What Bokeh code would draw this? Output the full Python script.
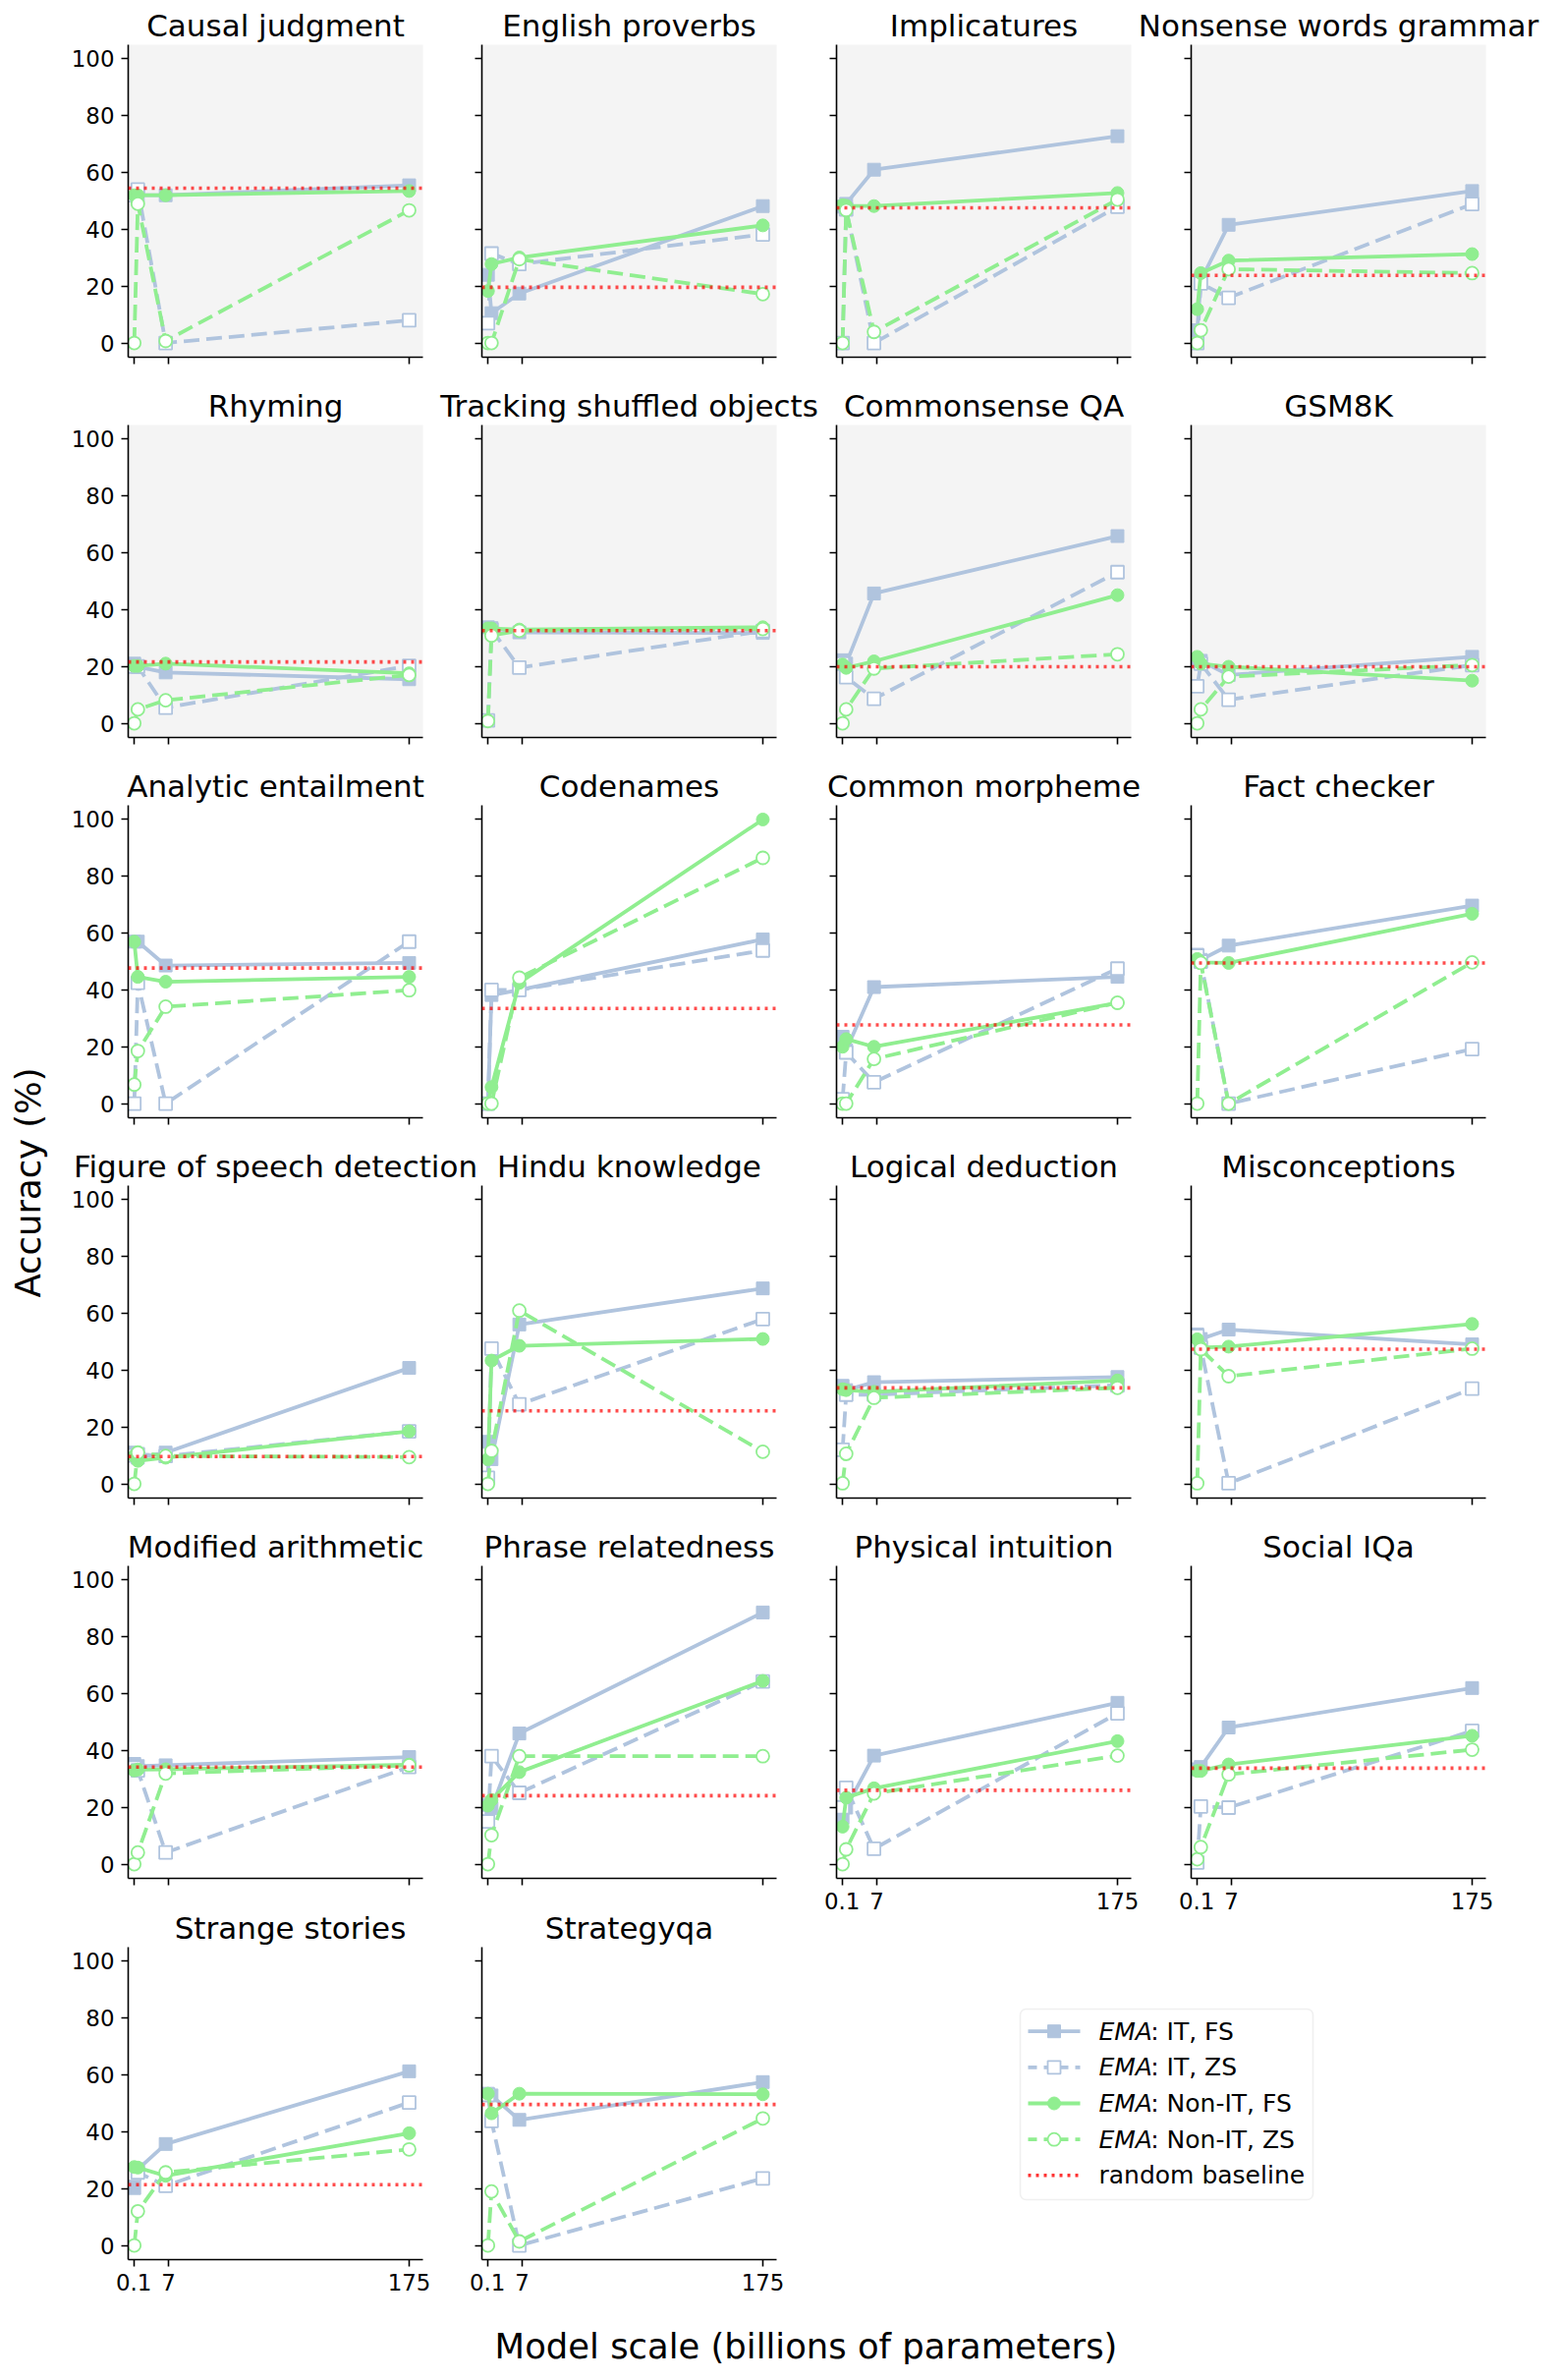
import math
from bokeh.plotting import figure
from bokeh.layouts import row, column
from bokeh.models import Range1d, FixedTicker, BoxAnnotation, Span
from bokeh.embed import file_html
from bokeh.resources import INLINE
from bokeh.core.properties import value

# ---------------- data ----------------
# plotting positions of the four model sizes on the (compressed) x axis
model_pos = [2, 15, 116, 1000]
tick_pos = [0, 126, 1000]
tick_labels = ["0.1", "7", "175"]

tasks = [
    "Causal judgment", "English proverbs", "Implicatures", "Nonsense words grammar",
    "Rhyming", "Tracking shuffled objects", "Commonsense QA", "GSM8K",
    "Analytic entailment", "Codenames", "Common morpheme", "Fact checker",
    "Figure of speech detection", "Hindu knowledge", "Logical deduction", "Misconceptions",
    "Modified arithmetic", "Phrase relatedness", "Physical intuition", "Social IQa",
    "Strange stories", "Strategyqa",
]

it_fs = [
    [52, 52, 52, 55.5], [24, 10.5, 17.4, 48.2], [48, 49, 61, 72.8], [4.5, 22, 41.6, 53.5],
    [21, 19.9, 17.9, 15.5], [33.8, 33.5, 32, 31.8], [22.2, 21, 45.7, 65.9], [22, 22, 17, 23.4],
    [57, 57, 48.6, 49.5], [0, 38.2, 40, 57.8], [23.5, 18.8, 41, 44.6], [52.4, 50.6, 55.6, 69.7],
    [11, 9.2, 11, 40.8], [14.8, 8.7, 56.1, 68.8], [34.5, 33, 35.8, 37.6], [52.6, 51, 54.3, 49.1],
    [35.3, 34.5, 34.8, 37.7], [20.9, 19.7, 46, 88.6], [16.4, 19.9, 38.2, 56.8], [33.4, 34.2, 48.1, 62],
    [20.2, 26.8, 35.7, 61.3], [53.4, 52.8, 44.2, 57.5],
]
it_zs = [
    [52, 54, 0, 8], [7, 31.5, 27.8, 38.2], [0, 47, 0, 48], [0, 21, 15.9, 48.9],
    [20, 20, 5.5, 20.2], [1, 33, 19.6, 32.5], [21, 16.2, 8.6, 53.2], [13, 21, 8.3, 20.5],
    [0, 42.5, 0, 57], [0, 40, 40, 53.9], [1.5, 18, 7.5, 47.5], [52, 50, 0, 19.2],
    [10, 10.4, 9.8, 18.5], [2.1, 47.6, 28, 58], [12, 31.4, 31.4, 34.7], [52, 48, 0.2, 33.5],
    [34, 33, 4.1, 34.2], [15, 38, 25.1, 64.3], [20, 26.9, 5.4, 53.1], [0.6, 20.3, 19.9, 46.9],
    [25, 25.7, 21, 50.3], [53, 43.8, 0, 23.6],
]
nonit_fs = [
    [52, 52, 52, 53.5], [18.3, 27.8, 30.1, 41.4], [48.5, 48.3, 48.2, 52.8], [11.9, 24.6, 29, 31.3],
    [20.2, 20.2, 21, 17.6], [33.4, 33.4, 33, 33.8], [20.7, 19.5, 21.8, 45.1], [23.4, 21, 19.9, 15],
    [57, 44.6, 42.9, 44.6], [0, 5.8, 42.5, 100], [20, 22.7, 20, 35.4], [50.9, 49.7, 49.5, 66.8],
    [9.8, 8.1, 9.2, 18.5], [8.7, 43.4, 48.6, 51], [33.3, 33, 32.4, 36.4], [50.9, 48, 48.3, 56.3],
    [33, 33.3, 33.4, 35], [20.6, 22.6, 32.4, 64.5], [13.2, 23.4, 26.7, 43.3], [32.8, 32.8, 35.1, 45.2],
    [27.6, 27.4, 24.5, 39.5], [53.4, 46.5, 53.4, 53.2],
]
nonit_zs = [
    [0, 49, 0.7, 46.7], [0, 0, 29.5, 17.2], [0, 46.8, 3.9, 50.5], [0, 4.5, 26, 24.6],
    [0, 4.9, 8.1, 17], [0.8, 30.9, 32.6, 33.2], [0, 4.9, 19.3, 24.3], [0, 4.9, 16.4, 20.5],
    [6.7, 18.5, 34.1, 39.9], [0, 0, 44.3, 86.5], [0, 0, 15.7, 35.5], [0, 49.5, 0, 49.7],
    [0, 11, 9.8, 9.4], [0, 11.6, 61, 11.3], [0.2, 10.6, 30.3, 33.8], [0.2, 47.4, 37.9, 47.6],
    [0, 4.1, 31.9, 34.8], [0, 10.2, 38, 38], [0, 5.2, 24.9, 38.2], [1.7, 6, 31.6, 40.3],
    [0, 12, 25.7, 33.8], [0, 19, 1.4, 44.7],
]
random_baseline = [
    54.5, 19.6, 47.6, 23.8,
    21.6, 32.6, 19.9, 19.9,
    47.7, 33.5, 27.7, 49.5,
    9.6, 25.7, 33.8, 47.4,
    34.2, 24.1, 26.0, 33.8,
    21.4, 49.6,
]
series_labels = ["IT, FS", "IT, ZS", "Non-IT, FS", "Non-IT, ZS"]

# ---------------- styles ----------------
IT_COLOR = "#b0c4de"
NONIT_COLOR = "#90ee90"
FONT = "DejaVu Sans"
TICK_FS = "22.9px"
TITLE_FS = "31px"
LABEL_FS = "35.4px"
LEGEND_FS = "25px"
LW = 3.8
DASH = "16 7"
DOT = "3 5"
RED_W = 3.6
MK = 13
FRAME_W, FRAME_H = 300, 318
XR = (-20, 1050)
YR = (-5, 105)
TOP_B = 0
TITLE_MID = 19.5   # title text centre above the frame top (px)

series_styles = [
    (IT_COLOR, "solid", "square", True),
    (IT_COLOR, DASH, "square", False),
    (NONIT_COLOR, "solid", "circle", True),
    (NONIT_COLOR, DASH, "circle", False),
]

FRAME_L = [138, 498, 859, 1220]          # frame left edges (page px)
SPLITS = [68, 468, 828, 1190, 1584]      # canvas boundaries of the four columns (page px)


def blank_fig(w, h):
    f = figure(title=None, width=w, height=h, x_range=Range1d(0, w), y_range=Range1d(0, h),
               min_border=0, x_axis_location=None, y_axis_location=None,
               toolbar_location=None, output_backend="svg")
    f.outline_line_color = None
    f.xgrid.visible = False
    f.ygrid.visible = False
    return f


def style_axis(ax, show_labels):
    ax.axis_line_color = "black"
    ax.axis_line_width = 1.6
    ax.major_tick_line_color = "black"
    ax.major_tick_line_width = 1.6
    ax.major_tick_out = 7
    ax.major_tick_in = 0
    ax.minor_tick_line_color = None
    ax.major_label_text_font = FONT
    if show_labels:
        ax.major_label_text_color = "black"
        ax.major_label_text_font_size = TICK_FS
        ax.major_label_standoff = 7
    else:
        ax.major_label_text_color = None
        ax.major_label_text_font_size = "1px"
        ax.major_label_standoff = 0


def make_panel(i, c, bottom_b, show_x, gray):
    left_b = FRAME_L[c] - SPLITS[c]
    right_b = SPLITS[c + 1] - (FRAME_L[c] + FRAME_W)
    p = figure(title=None, frame_width=FRAME_W, frame_height=FRAME_H,
               min_border_left=left_b, min_border_right=right_b,
               min_border_top=TOP_B, min_border_bottom=bottom_b,
               x_range=Range1d(*XR), y_range=Range1d(*YR),
               toolbar_location=None, output_backend="svg")
    p.outline_line_color = None
    p.xgrid.visible = False
    p.ygrid.visible = False
    p.background_fill_color = "#f4f4f4" if gray else "white"
    p.border_fill_color = "white"

    datasets = [it_fs[i], it_zs[i], nonit_fs[i], nonit_zs[i]]
    for vals, (col, dash, mk, filled) in zip(datasets, series_styles):
        p.line(model_pos, vals, line_color=col, line_width=LW, line_dash=dash)
        p.scatter(model_pos, vals, marker=mk, size=MK,
                  fill_color=col if filled else "white",
                  line_color=col, line_width=1.0 if filled else 1.8)

    p.add_layout(Span(location=random_baseline[i], dimension="width",
                      line_color="red", line_alpha=0.7, line_width=RED_W,
                      line_dash=DOT))

    style_axis(p.xaxis[0], show_x)
    style_axis(p.yaxis[0], c == 0)
    p.yaxis.ticker = FixedTicker(ticks=[0, 20, 40, 60, 80, 100])
    p.xaxis.ticker = FixedTicker(ticks=tick_pos)
    if show_x:
        p.xaxis.major_label_overrides = {t: l for t, l in zip(tick_pos, tick_labels)}
    return p


def title_strip(indices, cols, x0, w, h):
    """Panel titles, centred over the frames, just above the frame top."""
    f = blank_fig(w, h)
    xs = [FRAME_L[c] + FRAME_W / 2 - x0 for c in cols]
    f.text(xs, [TITLE_MID] * len(xs), text=[tasks[i] for i in indices], text_font=value(FONT),
           text_font_size=TITLE_FS, text_align="center", text_baseline="middle",
           text_color="black")
    return f


MAIN_W = 1516
blocks = []
row_defs = [([0, 1, 2, 3], 45, 26, True),
            ([4, 5, 6, 7], 43, 26, True),
            ([8, 9, 10, 11], 43, 26, False),
            ([12, 13, 14, 15], 43, 26, False)]
for idx, sh, bb, gray in row_defs:
    blocks.append(title_strip(idx, [0, 1, 2, 3], 68, MAIN_W, sh))
    blocks.append(row(*[make_panel(i, c, bb, False, gray) for c, i in enumerate(idx)]))

# row 5 titles (full width)
blocks.append(title_strip([16, 17, 18, 19], [0, 1, 2, 3], 68, MAIN_W, 43))

# rows 5 and 6, plus the legend
colA = column(make_panel(16, 0, 27, False, False),
              title_strip([20], [0], SPLITS[0], SPLITS[1] - SPLITS[0], 43),
              make_panel(20, 0, 45, True, False))
colB = column(make_panel(17, 1, 27, False, False),
              title_strip([21], [1], SPLITS[1], SPLITS[2] - SPLITS[1], 43),
              make_panel(21, 1, 45, True, False))
r5c = row(make_panel(18, 2, 45, True, False), make_panel(19, 3, 45, True, False))

# legend (drawn by hand so that "EMA" can be italic)
LG_W, LG_H = SPLITS[4] - SPLITS[2], 388
leg = blank_fig(LG_W, LG_H)
BX = 6
BY = -3
leg.add_layout(BoxAnnotation(left=212 + BX, right=510 + BX, bottom=109 + BY, top=303 + BY,
                             level="underlay", fill_color="white", fill_alpha=0.8,
                             line_color="#cccccc", line_width=1.6, border_radius=6))
entry_y = [280.3 + BY, 243.7 + BY, 207 + BY, 170.3 + BY, 133.7 + BY]
for k, (lab, (col, dash, mk, filled)) in enumerate(zip(series_labels, series_styles)):
    y = entry_y[k]
    leg.line([220 + BX, 273 + BX], [y, y], line_color=col, line_width=LW,
             line_dash="solid" if dash == "solid" else "9 7")
    leg.scatter([246.5 + BX], [y], marker=mk, size=MK,
                fill_color=col if filled else "white", line_color=col,
                line_width=1.0 if filled else 1.8)
    leg.text([292 + BX], [y], text=["EMA"], text_font=value(FONT), text_font_size=LEGEND_FS,
             text_font_style="italic", text_baseline="middle", text_align="left", text_color="black")
    leg.text([344.7 + BX], [y], text=[": " + lab], text_font=value(FONT), text_font_size=LEGEND_FS,
             text_baseline="middle", text_align="left", text_color="black")
y = entry_y[4]
leg.line([220 + BX, 273 + BX], [y, y], line_color="red", line_alpha=0.8, line_width=RED_W, line_dash=DOT)
leg.text([292 + BX], [y], text=["random baseline"], text_font=value(FONT), text_font_size=LEGEND_FS,
         text_baseline="middle", text_align="left", text_color="black")

blocks.append(row(colA, colB, column(r5c, leg)))

# x-axis label strip
xl = blank_fig(MAIN_W, 62)
xl.text([760], [19.5], text=["Model scale (billions of parameters)"], text_font=value(FONT),
        text_font_size=LABEL_FS, text_align="center", text_baseline="middle", text_color="black")
blocks.append(xl)

main = column(*blocks)

# y-axis label strip
yl = blank_fig(60, 2406)
yl.text([28], [1203], text=["Accuracy (%)"], angle=math.pi / 2, text_font=value(FONT),
        text_font_size=LABEL_FS, text_align="center", text_baseline="middle", text_color="black")

layout = row(yl, main)

open("out.html", "w").write(file_html(layout, INLINE))
